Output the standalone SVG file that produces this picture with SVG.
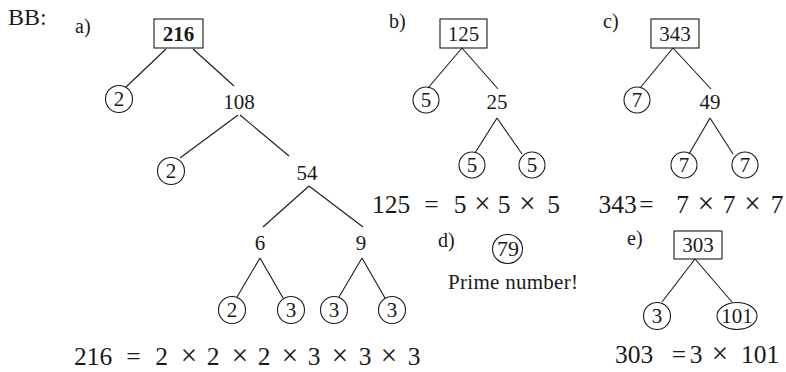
<svg xmlns="http://www.w3.org/2000/svg" width="786" height="372" viewBox="0 0 786 372">
<style>
text{font-family:"Liberation Serif","Times New Roman",serif;fill:#1a1a1a}
.n{font-size:21px;text-anchor:middle}
.b{font-weight:bold}
.lbl{font-size:20px}
.eq text{font-size:25.5px;text-anchor:middle}
.eq text.x{font-size:29px}
.bx,.cc{fill:none;stroke:#1a1a1a;stroke-width:1.1}
.cn line{stroke:#1a1a1a;stroke-width:1.1}
</style>
<rect width="786" height="372" fill="#fff"/>
<text x="8" y="25" style="font-size:24px">BB:</text>
<text class="lbl" x="75" y="33">a)</text>
<text class="lbl" x="389" y="28">b)</text>
<text class="lbl" x="603" y="28">c)</text>
<text class="lbl" x="438" y="247">d)</text>
<text class="lbl" x="627" y="245">e)</text>

<g id="connectors" class="cn">
<line x1="166" y1="49" x2="126" y2="87"/>
<line x1="193" y1="49" x2="234" y2="86"/>
<line x1="238" y1="115" x2="180" y2="158"/>
<line x1="240" y1="115" x2="289" y2="156"/>
<line x1="309" y1="186" x2="263" y2="227"/>
<line x1="309" y1="186" x2="363" y2="227"/>
<line x1="260" y1="258" x2="237" y2="297"/>
<line x1="260" y1="258" x2="283" y2="298"/>
<line x1="362" y1="258" x2="339" y2="297"/>
<line x1="362" y1="258" x2="385" y2="298"/>
<line x1="462" y1="48" x2="428" y2="88"/>
<line x1="462" y1="48" x2="498" y2="89"/>
<line x1="497" y1="118" x2="475" y2="153"/>
<line x1="497" y1="118" x2="522" y2="154"/>
<line x1="673" y1="48" x2="640" y2="88"/>
<line x1="673" y1="48" x2="711" y2="89"/>
<line x1="710" y1="118" x2="689" y2="154"/>
<line x1="710" y1="118" x2="733" y2="154"/>
<line x1="695" y1="259" x2="662" y2="302"/>
<line x1="695" y1="259" x2="732" y2="302"/>
</g>

<g id="a-216"><rect class="bx" x="154" y="19" width="49" height="29"/><text class="n b" x="178.5" y="41">216</text></g>
<g id="a-2a"><circle class="cc" cx="119" cy="99" r="13.5"/><text class="n" x="119" y="106">2</text></g>
<g id="a-108"><text class="n" x="239" y="109">108</text></g>
<g id="a-2b"><circle class="cc" cx="171" cy="171" r="13.5"/><text class="n" x="171" y="178">2</text></g>
<g id="a-54"><text class="n" x="307" y="180">54</text></g>
<g id="a-6"><text class="n" x="260" y="250">6</text></g>
<g id="a-9"><text class="n" x="361" y="250">9</text></g>
<g id="a-2c"><circle class="cc" cx="232" cy="310" r="13.5"/><text class="n" x="232" y="317">2</text></g>
<g id="a-3a"><circle class="cc" cx="291" cy="310" r="13.5"/><text class="n" x="291" y="317">3</text></g>
<g id="a-3b"><circle class="cc" cx="334" cy="310" r="13.5"/><text class="n" x="334" y="317">3</text></g>
<g id="a-3c"><circle class="cc" cx="392" cy="310" r="13.5"/><text class="n" x="392" y="317">3</text></g>
<g id="eq-a" class="eq">
<text x="93" y="365">216</text><text x="133.5" y="365">=</text>
<text x="161.5" y="365">2</text><text class="x" x="189" y="365">×</text>
<text x="213" y="365">2</text><text class="x" x="240" y="365">×</text>
<text x="264" y="365">2</text><text class="x" x="290" y="365">×</text>
<text x="314" y="365">3</text><text class="x" x="340" y="365">×</text>
<text x="365" y="365">3</text><text class="x" x="389" y="365">×</text>
<text x="414" y="365">3</text>
</g>

<g id="b-125"><rect class="bx" x="440" y="19" width="47" height="29"/><text class="n" x="463.5" y="41">125</text></g>
<g id="b-5a"><circle class="cc" cx="426" cy="100" r="13"/><text class="n" x="426" y="107">5</text></g>
<g id="b-25"><text class="n" x="497" y="109">25</text></g>
<g id="b-5b"><circle class="cc" cx="472" cy="165" r="13"/><text class="n" x="472" y="172">5</text></g>
<g id="b-5c"><circle class="cc" cx="532" cy="165" r="13"/><text class="n" x="532" y="172">5</text></g>
<g id="eq-b" class="eq">
<text x="391" y="213">125</text><text x="431.5" y="213">=</text>
<text x="460" y="213">5</text><text class="x" x="482.5" y="213">×</text>
<text x="504" y="213">5</text><text class="x" x="527.5" y="213">×</text>
<text x="553.5" y="213">5</text>
</g>

<g id="c-343"><rect class="bx" x="651" y="19" width="48" height="29"/><text class="n" x="675" y="41">343</text></g>
<g id="c-7a"><circle class="cc" cx="637" cy="100" r="13"/><text class="n" x="637" y="107">7</text></g>
<g id="c-49"><text class="n" x="710" y="109">49</text></g>
<g id="c-7b"><circle class="cc" cx="684" cy="165" r="13"/><text class="n" x="684" y="172">7</text></g>
<g id="c-7c"><circle class="cc" cx="745" cy="165" r="13"/><text class="n" x="745" y="172">7</text></g>
<g id="eq-c" class="eq">
<text x="617.5" y="213">343</text><text x="646.5" y="213">=</text>
<text x="682.5" y="213">7</text><text class="x" x="706" y="213">×</text>
<text x="729" y="213">7</text><text class="x" x="752.5" y="213">×</text>
<text x="777" y="213">7</text>
</g>

<g id="d-79"><ellipse class="cc" cx="507.5" cy="249" rx="15" ry="14.5"/><text class="n" x="508" y="256" textLength="22" lengthAdjust="spacingAndGlyphs">79</text></g>
<text x="448" y="289" style="font-size:21px" textLength="130">Prime number!</text>

<g id="e-303"><rect class="bx" x="674" y="231" width="48" height="28"/><text class="n" x="698" y="252">303</text></g>
<g id="e-3"><circle class="cc" cx="657" cy="316" r="13.5"/><text class="n" x="657" y="323">3</text></g>
<g id="e-101"><ellipse class="cc" cx="737" cy="316" rx="20" ry="13.5"/><text class="n" x="737" y="323">101</text></g>
<g id="eq-e" class="eq">
<text x="634" y="363">303</text><text x="679" y="363">=</text>
<text x="696" y="363">3</text><text class="x" x="720" y="363">×</text>
<text x="760" y="363">101</text>
</g>
</svg>
